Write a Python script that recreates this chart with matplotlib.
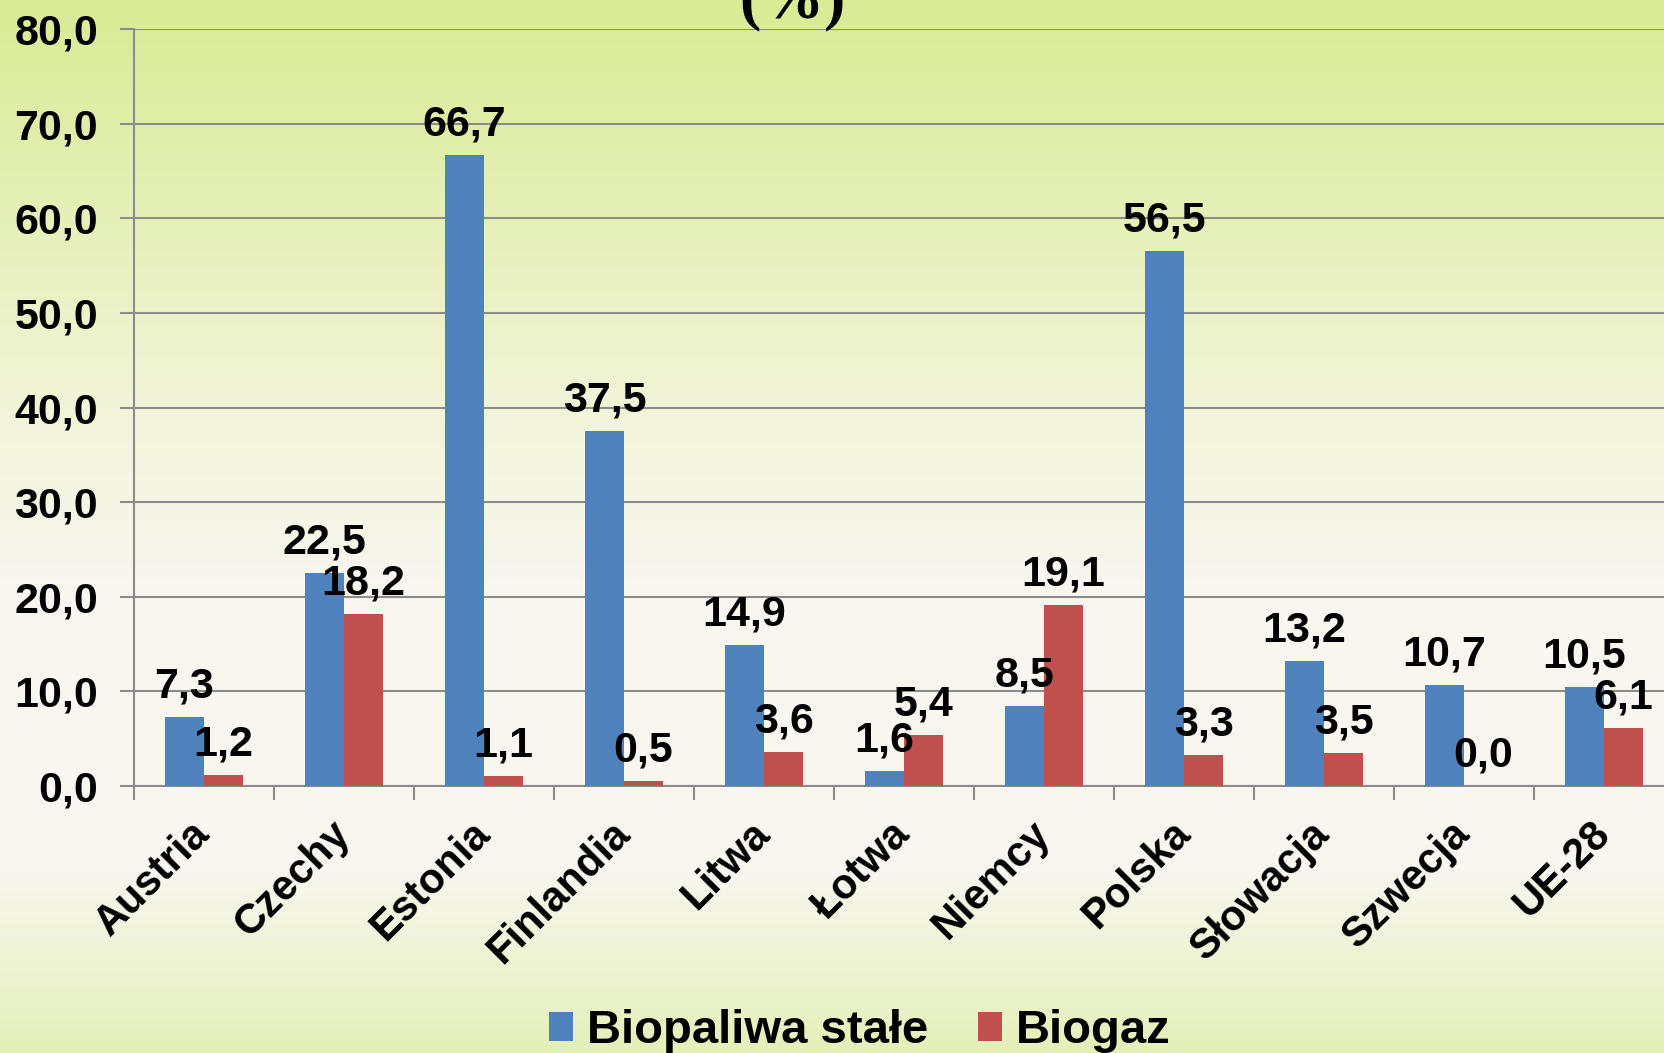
import numpy as np
import matplotlib
matplotlib.use("Agg")
from matplotlib import pyplot as plt
from matplotlib.colors import LinearSegmentedColormap

plt.rcParams['font.family'] = ['Liberation Sans', 'DejaVu Sans']
plt.rcParams['font.weight'] = 'bold'

categories = ["Austria", "Czechy", "Estonia", "Finlandia", "Litwa", "Łotwa",
              "Niemcy", "Polska", "Słowacja", "Szwecja", "UE-28"]
biopaliwa = [7.3, 22.5, 66.7, 37.5, 14.9, 1.6, 8.5, 56.5, 13.2, 10.7, 10.5]
biogaz = [1.2, 18.2, 1.1, 0.5, 3.6, 5.4, 19.1, 3.3, 3.5, 0.0, 6.1]
series_names = ["Biopaliwa stałe", "Biogaz"]
yticks = [0, 10, 20, 30, 40, 50, 60, 70, 80]

W, H = 1665, 1053
fig = plt.figure(figsize=(W / 100, H / 100), dpi=100)

# tło z gradientem (zielony u góry, kremowy w środku, zielonkawy na dole)
bg = fig.add_axes([0, 0, 1, 1], zorder=-10)
bg.axis('off')
cmap = LinearSegmentedColormap.from_list("bg", [
    (0.00, (217/255, 235/255, 148/255)),
    (0.42, (243/255, 245/255, 222/255)),
    (0.55, (248/255, 246/255, 238/255)),
    (0.83, (248/255, 246/255, 238/255)),
    (1.00, (228/255, 240/255, 185/255)),
])
grad = np.linspace(0, 1, 256).reshape(-1, 1)
bg.imshow(grad, aspect='auto', cmap=cmap, extent=[0, 1, 0, 1])

# obszar wykresu wychodzi lekko poza prawą krawędź (jak w oryginale)
ax = fig.add_axes([134 / W, 267 / H, 1540 / W, 757 / H])
ax.set_facecolor('none')

x = np.arange(len(categories))
w = 0.28
b1 = ax.bar(x - w / 2, biopaliwa, w, color='#4f81bd', label=series_names[0], zorder=3)
b2 = ax.bar(x + w / 2, biogaz, w, color='#c0504d', label=series_names[1], zorder=3)

for bars, vals in ((b1, biopaliwa), (b2, biogaz)):
    for rect, v in zip(bars, vals):
        ax.annotate(f"{v:.1f}".replace('.', ','),
                    (rect.get_x() + rect.get_width() / 2, v),
                    xytext=(0, 14), textcoords='offset points',
                    ha='center', va='baseline', fontsize=31, fontweight='bold', zorder=5)

ax.set_xlim(-0.5, len(categories) - 0.5)
ax.set_ylim(0, 80)
ax.set_yticks(yticks)
ax.set_yticklabels([f"{t:.1f}".replace('.', ',') for t in yticks])
ax.yaxis.grid(True, color='#8c8c8c', linewidth=1.5, zorder=0)
ax.set_axisbelow(True)

ax.set_xticks(x)
ax.set_xticklabels(categories, rotation=45, ha='right', va='center',
                   rotation_mode='anchor')
ax.set_xticks(np.arange(len(categories) + 1) - 0.5, minor=True)
ax.tick_params(axis='x', which='major', length=0, pad=30, labelsize=30)
ax.tick_params(axis='x', which='minor', length=10, width=1.5, color='#8c8c8c')
ax.tick_params(axis='y', length=10, width=1.5, color='#8c8c8c', pad=16, labelsize=31)

for s in ('top', 'right'):
    ax.spines[s].set_visible(False)
for s in ('left', 'bottom'):
    ax.spines[s].set_color('#8c8c8c')
    ax.spines[s].set_linewidth(1.5)

# tytuł - widoczna tylko dolna część
fig.text(792 / W, 1 - 17 / H, "(%)", ha='center', va='baseline',
         fontsize=46, fontweight='bold', family=['Liberation Serif', 'DejaVu Serif'])

fig.legend(handles=[b1, b2], labels=series_names, loc='center',
           bbox_to_anchor=(860 / W, 22 / H), ncol=2, frameon=False,
           prop={'size': 34, 'weight': 'bold'}, handlelength=0.5, handleheight=0.55,
           handletextpad=0.3, columnspacing=1.05, borderpad=0)

fig.savefig("out.png", dpi=100)
